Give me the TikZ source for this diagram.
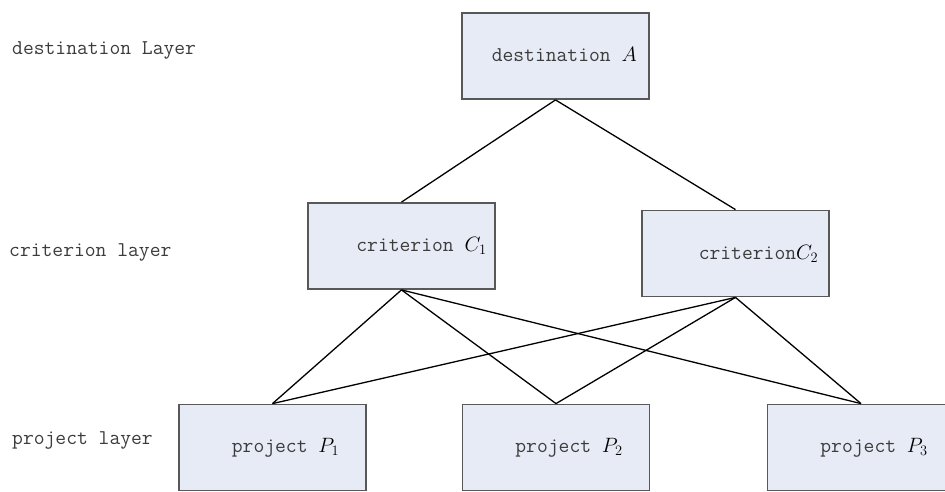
\documentclass[tikz,border=0pt]{standalone}
\usepackage{fontspec}
\usepackage{tikz}
\usetikzlibrary{positioning}

\definecolor{boxfill}{RGB}{231,235,246}
\definecolor{boxline}{RGB}{88,88,88}
\definecolor{textgray}{RGB}{60,60,60}

% larger italic symbol with index
\newcommand{\sym}[2]{{\fontsize{22}{26}\selectfont\color{black}$#1_{#2}$}}

\begin{document}
\begin{tikzpicture}[
        x=1pt, y=-1pt,
        on grid,
        box/.style={
            rectangle, draw=boxline, line width=1.8pt, fill=boxfill,
            minimum width=187pt, minimum height=86pt, inner sep=0pt,
            font=\ttfamily\fontsize{21}{25}\selectfont, text=textgray
        },
        layer/.style={
            anchor=west, inner sep=0pt,
            font=\ttfamily\fontsize{21}{25}\selectfont, text=textgray
        },
        link/.style={line width=1.3pt, black}
    ]
    \useasboundingbox (0,0) rectangle (945,491);

    % Hierarchy boxes
    \node[box] (dest) at (555.5,56) {\hspace*{18pt}destination \sym{A}{}};
    \node[box, below left=190pt and 154pt of dest] (c1) {\hspace*{40pt}criterion \sym{C}{1}};
    \node[box, below right=197.5pt and 180pt of dest] (c2) {\hspace*{46pt}criterion\sym{C}{2}};
    \node[box, below left=201.5pt and 129pt of c1] (p1) {\hspace*{26pt}project \sym{P}{1}};
    \node[box, right=283.5pt of p1] (p2) {\hspace*{26pt}project \sym{P}{2}};
    \node[box, right=305pt of p2] (p3) {\hspace*{26pt}project \sym{P}{3}};

    % Layer names
    \node[layer] (destlayer) at (12,50) {destination Layer};
    \node[layer] (critlayer) at (9,252) {criterion layer};
    \node[layer] (projlayer) at (12,440) {project layer};

    % Connections
    \draw[link] (dest.south) -- (c1.north);
    \draw[link] (dest.south) -- (c2.north);
    \foreach \c in {c1,c2}
        \foreach \p in {p1,p2,p3}
            \draw[link] (\c.south) -- (\p.north);

\end{tikzpicture}
\end{document}
